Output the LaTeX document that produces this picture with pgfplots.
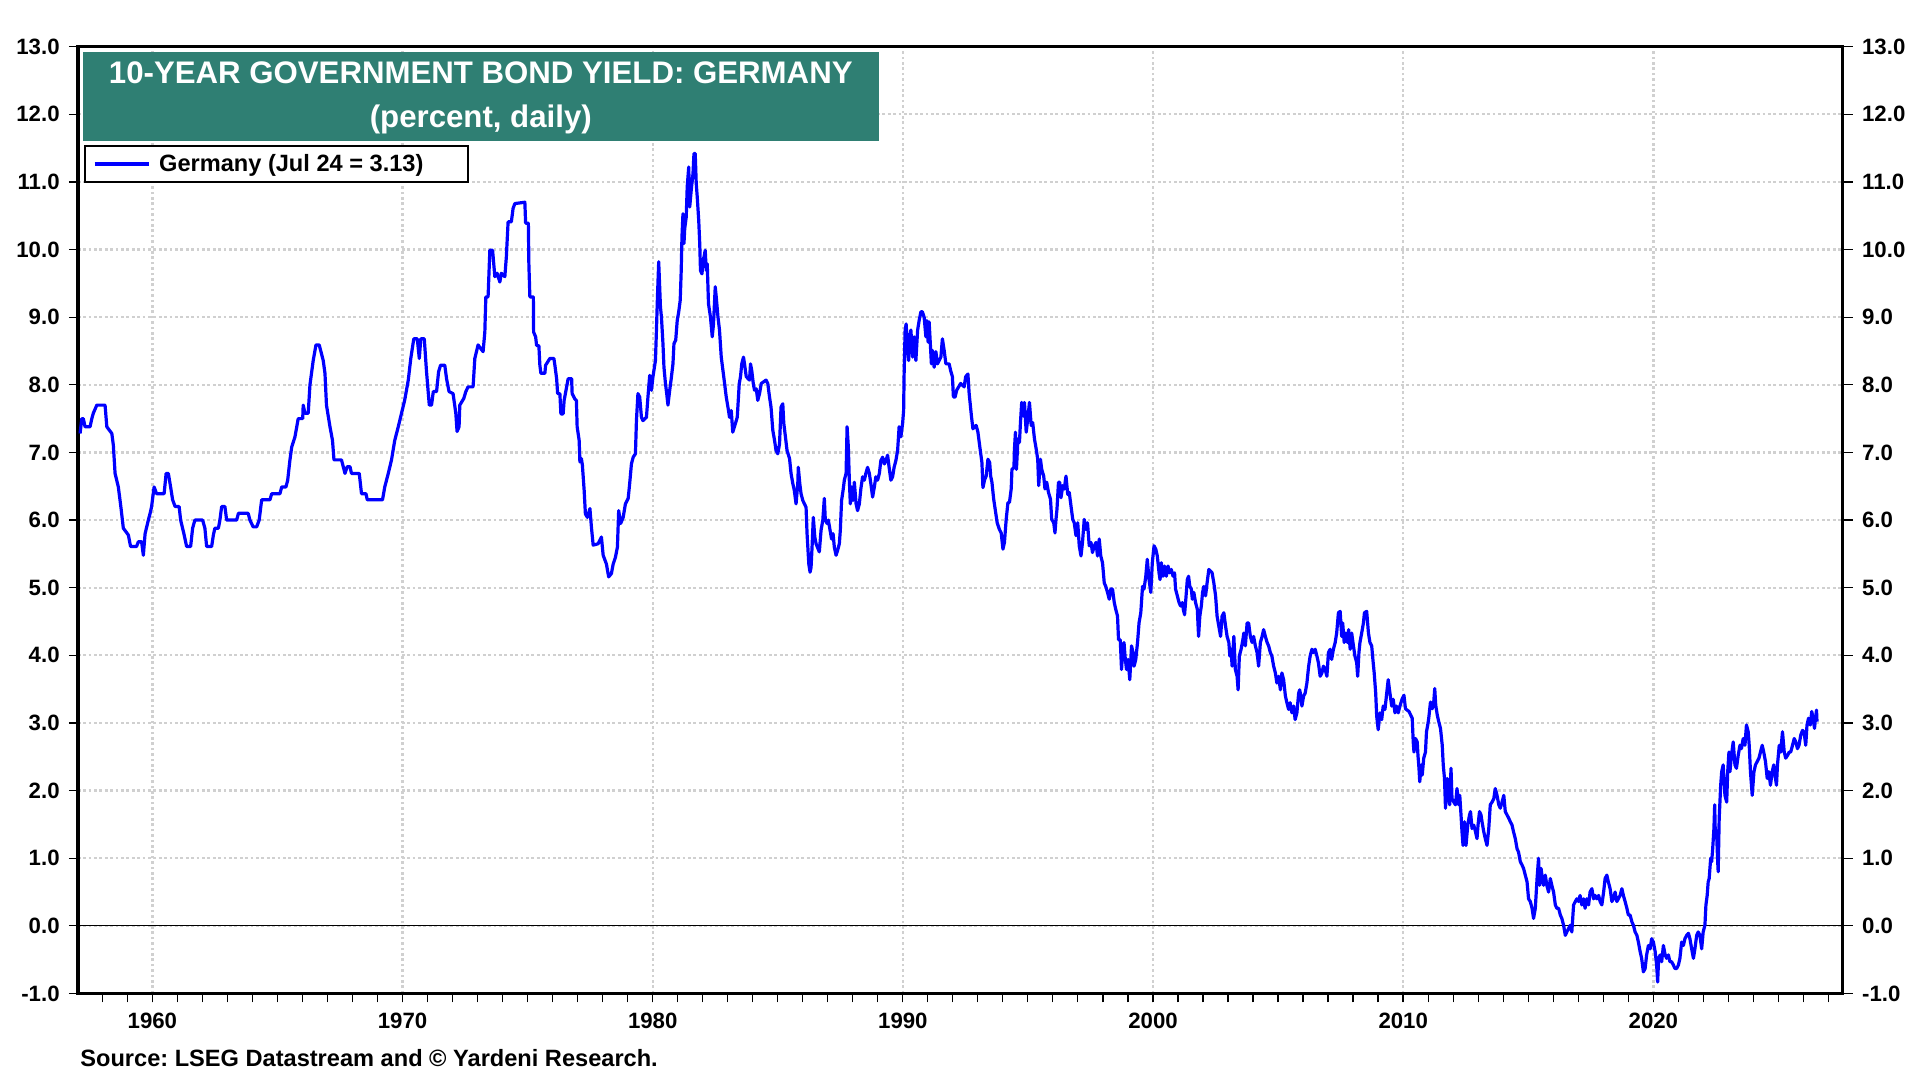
\documentclass[border=0pt]{standalone}
\usepackage{fontspec}
\setmainfont{Liberation Sans}
\usepackage{pgfplots}
\usepackage{pgfplotstable}
\pgfplotsset{compat=1.18}
\definecolor{titleteal}{RGB}{47,127,115}
\definecolor{gridgray}{RGB}{208,208,208}
\definecolor{lineblue}{RGB}{0,0,255}
\frenchspacing
\pgfplotstableread{
year yield
1957.11 7.28
1957.18 7.50
1957.24 7.50
1957.31 7.38
1957.51 7.38
1957.58 7.50
1957.64 7.58
1957.78 7.70
1958.11 7.70
1958.18 7.38
1958.38 7.28
1958.44 7.11
1958.51 6.69
1958.64 6.49
1958.74 6.20
1958.84 5.88
1959.04 5.78
1959.13 5.61
1959.37 5.61
1959.44 5.68
1959.57 5.68
1959.64 5.48
1959.71 5.80
1959.84 6.00
1959.91 6.10
1959.97 6.20
1960.07 6.49
1960.17 6.39
1960.47 6.39
1960.55 6.69
1960.64 6.69
1960.73 6.49
1960.81 6.30
1960.91 6.20
1961.07 6.20
1961.13 6.00
1961.26 5.80
1961.37 5.61
1961.53 5.61
1961.61 5.88
1961.70 6.00
1962.01 6.00
1962.10 5.88
1962.17 5.61
1962.37 5.61
1962.44 5.78
1962.50 5.88
1962.64 5.88
1962.70 6.00
1962.77 6.20
1962.90 6.20
1962.97 6.00
1963.37 6.00
1963.44 6.10
1963.83 6.10
1963.90 6.00
1964.03 5.90
1964.17 5.90
1964.27 6.00
1964.37 6.30
1964.70 6.30
1964.77 6.39
1965.10 6.39
1965.17 6.49
1965.34 6.49
1965.41 6.59
1965.50 6.89
1965.57 7.08
1965.70 7.23
1965.83 7.50
1966.01 7.50
1966.03 7.70
1966.10 7.58
1966.23 7.58
1966.30 8.00
1966.43 8.36
1966.54 8.59
1966.67 8.59
1966.74 8.49
1966.83 8.36
1966.90 8.17
1966.96 7.70
1967.10 7.38
1967.20 7.18
1967.26 6.89
1967.56 6.89
1967.70 6.69
1967.79 6.79
1967.90 6.79
1967.96 6.69
1968.27 6.69
1968.36 6.39
1968.54 6.39
1968.59 6.30
1969.20 6.30
1969.29 6.49
1969.43 6.69
1969.56 6.89
1969.69 7.18
1969.83 7.38
1969.96 7.58
1970.09 7.78
1970.23 8.07
1970.33 8.39
1970.45 8.68
1970.59 8.68
1970.67 8.39
1970.73 8.68
1970.87 8.68
1970.96 8.19
1971.07 7.70
1971.16 7.70
1971.23 7.90
1971.36 7.90
1971.44 8.19
1971.52 8.29
1971.69 8.29
1971.76 8.09
1971.86 7.90
1972.02 7.87
1972.13 7.58
1972.18 7.31
1972.26 7.38
1972.29 7.70
1972.45 7.80
1972.53 7.90
1972.62 7.97
1972.82 7.97
1972.89 8.39
1973.02 8.59
1973.22 8.49
1973.29 8.78
1973.33 9.30
1973.42 9.30
1973.49 9.99
1973.60 9.99
1973.69 9.60
1973.78 9.65
1973.89 9.52
1973.95 9.65
1974.09 9.60
1974.15 9.89
1974.22 10.41
1974.35 10.41
1974.42 10.61
1974.49 10.68
1974.89 10.70
1974.92 10.39
1975.03 10.39
1975.05 9.79
1975.09 9.30
1975.23 9.30
1975.24 8.78
1975.32 8.71
1975.36 8.58
1975.45 8.58
1975.49 8.29
1975.53 8.17
1975.69 8.17
1975.72 8.29
1975.89 8.39
1976.05 8.39
1976.09 8.29
1976.16 8.09
1976.20 7.87
1976.29 7.87
1976.33 7.57
1976.42 7.57
1976.46 7.77
1976.56 7.97
1976.62 8.09
1976.76 8.09
1976.78 7.87
1976.89 7.79
1976.95 7.77
1976.98 7.38
1977.06 7.18
1977.09 6.86
1977.15 6.91
1977.19 6.81
1977.26 6.44
1977.31 6.09
1977.39 6.04
1977.49 6.17
1977.55 5.90
1977.62 5.63
1977.82 5.65
1977.95 5.75
1978.02 5.48
1978.15 5.35
1978.24 5.16
1978.35 5.21
1978.42 5.35
1978.51 5.45
1978.59 5.60
1978.64 6.14
1978.72 5.95
1978.82 6.04
1978.91 6.24
1979.02 6.32
1979.08 6.54
1979.15 6.83
1979.22 6.93
1979.31 6.98
1979.35 7.47
1979.41 7.87
1979.48 7.82
1979.55 7.52
1979.61 7.47
1979.75 7.52
1979.81 7.82
1979.88 8.14
1979.95 7.92
1980.01 8.12
1980.11 8.36
1980.15 8.81
1980.19 9.30
1980.24 9.82
1980.31 9.15
1980.35 9.00
1980.41 8.61
1980.45 8.26
1980.51 8.02
1980.56 7.87
1980.61 7.70
1980.68 7.92
1980.74 8.09
1980.81 8.31
1980.85 8.61
1980.92 8.66
1980.98 8.95
1981.04 9.08
1981.10 9.25
1981.14 9.69
1981.17 10.19
1981.21 10.53
1981.25 10.09
1981.28 10.31
1981.34 10.48
1981.38 10.93
1981.44 11.22
1981.48 10.63
1981.54 10.88
1981.61 11.12
1981.65 11.42
1981.70 11.42
1981.74 10.98
1981.78 10.78
1981.84 10.43
1981.88 10.09
1981.91 9.69
1981.97 9.64
1982.01 9.84
1982.05 9.89
1982.10 9.99
1982.14 9.69
1982.18 9.79
1982.23 9.20
1982.31 9.00
1982.38 8.71
1982.43 8.90
1982.50 9.45
1982.54 9.30
1982.61 9.00
1982.67 8.81
1982.74 8.41
1982.85 8.09
1982.94 7.82
1983.03 7.62
1983.07 7.52
1983.14 7.62
1983.20 7.30
1983.30 7.42
1983.38 7.52
1983.46 8.02
1983.51 8.12
1983.56 8.31
1983.63 8.41
1983.67 8.31
1983.74 8.12
1983.87 8.07
1983.91 8.31
1983.96 8.21
1984.02 8.02
1984.07 7.92
1984.14 7.94
1984.20 7.77
1984.27 7.87
1984.34 8.02
1984.53 8.07
1984.60 8.02
1984.67 7.82
1984.73 7.67
1984.80 7.33
1984.87 7.18
1984.93 7.03
1985.00 6.98
1985.07 7.13
1985.13 7.67
1985.20 7.72
1985.24 7.43
1985.29 7.28
1985.37 7.03
1985.47 6.91
1985.53 6.69
1985.60 6.54
1985.66 6.44
1985.73 6.24
1985.80 6.54
1985.82 6.78
1985.88 6.54
1985.93 6.39
1986.00 6.29
1986.13 6.19
1986.17 5.80
1986.24 5.35
1986.29 5.23
1986.33 5.30
1986.37 5.60
1986.42 6.04
1986.48 5.75
1986.53 5.65
1986.66 5.53
1986.73 5.85
1986.80 6.00
1986.86 6.32
1986.90 6.00
1986.97 5.95
1987.02 6.00
1987.09 5.85
1987.15 5.72
1987.21 5.80
1987.26 5.60
1987.33 5.48
1987.39 5.55
1987.46 5.65
1987.50 5.85
1987.55 6.29
1987.61 6.44
1987.66 6.59
1987.73 6.69
1987.77 7.38
1987.82 7.08
1987.86 6.59
1987.90 6.24
1987.95 6.49
1988.01 6.29
1988.06 6.56
1988.13 6.24
1988.19 6.14
1988.26 6.24
1988.32 6.46
1988.39 6.64
1988.46 6.59
1988.52 6.69
1988.59 6.78
1988.66 6.69
1988.72 6.54
1988.79 6.34
1988.86 6.49
1988.92 6.64
1988.99 6.59
1989.06 6.69
1989.12 6.88
1989.19 6.93
1989.26 6.83
1989.32 6.88
1989.39 6.96
1989.45 6.78
1989.52 6.59
1989.59 6.64
1989.65 6.78
1989.72 6.88
1989.79 7.03
1989.85 7.38
1989.92 7.23
1989.99 7.43
1990.03 7.62
1990.05 8.16
1990.09 8.81
1990.13 8.90
1990.19 8.51
1990.23 8.36
1990.27 8.71
1990.32 8.81
1990.39 8.41
1990.45 8.71
1990.52 8.36
1990.59 8.81
1990.65 8.95
1990.72 9.08
1990.78 9.08
1990.85 9.00
1990.92 8.71
1990.96 8.95
1991.01 8.63
1991.05 8.93
1991.09 8.66
1991.14 8.31
1991.18 8.51
1991.25 8.26
1991.32 8.49
1991.38 8.31
1991.52 8.41
1991.58 8.68
1991.65 8.51
1991.72 8.31
1991.85 8.31
1991.91 8.21
1991.98 8.12
1992.02 7.82
1992.09 7.82
1992.15 7.92
1992.31 8.02
1992.45 7.97
1992.51 8.12
1992.60 8.16
1992.65 7.87
1992.74 7.54
1992.80 7.35
1992.93 7.40
1993.00 7.30
1993.07 7.10
1993.16 6.85
1993.20 6.48
1993.27 6.60
1993.33 6.65
1993.40 6.90
1993.47 6.85
1993.51 6.65
1993.56 6.56
1993.63 6.31
1993.69 6.16
1993.77 5.96
1993.86 5.86
1993.93 5.81
1994.00 5.57
1994.06 5.67
1994.13 6.01
1994.20 6.26
1994.26 6.26
1994.33 6.46
1994.36 6.75
1994.44 6.78
1994.46 7.05
1994.50 7.30
1994.54 6.75
1994.60 7.20
1994.66 7.15
1994.70 7.44
1994.75 7.74
1994.81 7.54
1994.86 7.74
1994.93 7.30
1994.99 7.49
1995.06 7.74
1995.13 7.40
1995.19 7.44
1995.26 7.20
1995.33 7.05
1995.39 6.90
1995.43 6.51
1995.50 6.90
1995.55 6.75
1995.63 6.65
1995.68 6.46
1995.75 6.56
1995.82 6.41
1995.90 6.31
1995.95 6.01
1996.03 5.96
1996.08 5.81
1996.12 6.01
1996.16 6.16
1996.22 6.56
1996.27 6.56
1996.32 6.33
1996.39 6.51
1996.45 6.46
1996.52 6.65
1996.59 6.38
1996.65 6.41
1996.72 6.21
1996.79 6.01
1996.85 5.96
1996.92 5.77
1996.99 5.96
1997.05 5.62
1997.12 5.47
1997.18 5.67
1997.25 6.01
1997.32 5.86
1997.38 5.96
1997.45 5.62
1997.52 5.67
1997.58 5.52
1997.65 5.62
1997.72 5.67
1997.78 5.47
1997.85 5.72
1997.91 5.47
1997.98 5.37
1998.05 5.07
1998.11 5.02
1998.18 4.93
1998.25 4.83
1998.31 4.98
1998.38 4.98
1998.45 4.78
1998.51 4.68
1998.58 4.58
1998.62 4.23
1998.69 4.23
1998.74 3.79
1998.79 4.09
1998.84 4.19
1998.88 3.99
1998.94 3.79
1999.00 3.94
1999.07 3.64
1999.14 4.14
1999.20 4.04
1999.24 3.84
1999.31 3.94
1999.38 4.19
1999.44 4.48
1999.51 4.63
1999.58 5.02
1999.64 4.98
1999.71 5.17
1999.77 5.42
1999.84 5.12
1999.91 4.93
1999.97 5.37
2000.04 5.62
2000.11 5.57
2000.17 5.47
2000.24 5.22
2000.28 5.12
2000.33 5.37
2000.40 5.17
2000.46 5.32
2000.53 5.17
2000.60 5.32
2000.66 5.22
2000.73 5.27
2000.80 5.17
2000.86 5.22
2000.90 4.98
2000.97 4.88
2001.04 4.78
2001.10 4.73
2001.17 4.78
2001.21 4.68
2001.26 4.60
2001.31 4.83
2001.37 5.12
2001.42 5.17
2001.47 5.02
2001.53 4.98
2001.57 4.83
2001.63 4.93
2001.70 4.78
2001.77 4.68
2001.82 4.28
2001.87 4.58
2001.93 4.73
2001.98 4.93
2002.03 5.02
2002.10 4.88
2002.16 5.07
2002.23 5.27
2002.36 5.22
2002.43 5.07
2002.50 4.88
2002.56 4.58
2002.63 4.43
2002.70 4.28
2002.76 4.58
2002.83 4.63
2002.90 4.43
2002.96 4.28
2003.03 4.19
2003.07 3.99
2003.12 4.09
2003.16 3.84
2003.23 4.28
2003.29 3.79
2003.36 3.69
2003.40 3.49
2003.45 3.99
2003.52 4.09
2003.59 4.23
2003.63 4.33
2003.69 4.14
2003.76 4.48
2003.82 4.48
2003.89 4.28
2003.96 4.19
2004.02 4.28
2004.09 4.14
2004.16 4.04
2004.22 3.84
2004.29 4.19
2004.36 4.28
2004.42 4.38
2004.49 4.28
2004.56 4.19
2004.62 4.14
2004.69 4.04
2004.75 3.99
2004.82 3.84
2004.89 3.74
2004.95 3.59
2005.02 3.69
2005.09 3.49
2005.15 3.74
2005.22 3.64
2005.29 3.40
2005.35 3.30
2005.42 3.20
2005.48 3.30
2005.55 3.15
2005.62 3.25
2005.68 3.05
2005.75 3.15
2005.82 3.44
2005.86 3.49
2005.91 3.40
2005.95 3.25
2006.02 3.40
2006.08 3.44
2006.15 3.59
2006.22 3.84
2006.28 3.99
2006.35 4.09
2006.41 4.04
2006.48 4.09
2006.55 3.99
2006.61 3.89
2006.68 3.69
2006.75 3.74
2006.81 3.84
2006.88 3.79
2006.95 3.69
2007.01 4.04
2007.08 4.09
2007.14 3.94
2007.21 4.09
2007.28 4.19
2007.34 4.33
2007.41 4.63
2007.48 4.65
2007.54 4.28
2007.58 4.48
2007.64 4.19
2007.70 4.33
2007.77 4.19
2007.82 4.38
2007.88 4.09
2007.94 4.33
2008.01 4.14
2008.07 3.99
2008.14 3.89
2008.18 3.69
2008.23 4.04
2008.27 4.19
2008.34 4.33
2008.41 4.48
2008.45 4.63
2008.54 4.65
2008.61 4.33
2008.67 4.19
2008.74 4.14
2008.80 3.89
2008.84 3.74
2008.90 3.44
2008.94 3.10
2009.00 2.90
2009.07 3.15
2009.14 3.05
2009.20 3.25
2009.27 3.20
2009.34 3.44
2009.40 3.64
2009.47 3.44
2009.54 3.25
2009.60 3.35
2009.67 3.15
2009.73 3.25
2009.80 3.15
2009.87 3.25
2009.96 3.36
2010.03 3.41
2010.09 3.21
2010.23 3.17
2010.36 3.07
2010.40 2.72
2010.43 2.57
2010.49 2.77
2010.56 2.72
2010.59 2.52
2010.63 2.33
2010.66 2.13
2010.72 2.38
2010.76 2.23
2010.82 2.48
2010.89 2.57
2010.93 2.87
2010.98 2.97
2011.02 3.07
2011.09 3.31
2011.16 3.21
2011.22 3.31
2011.26 3.51
2011.30 3.26
2011.36 3.12
2011.42 3.02
2011.49 2.92
2011.56 2.67
2011.60 2.38
2011.65 2.18
2011.69 1.74
2011.76 2.18
2011.82 1.88
2011.86 1.79
2011.91 2.33
2011.95 1.88
2012.02 1.83
2012.09 1.79
2012.15 2.03
2012.22 1.79
2012.26 1.93
2012.31 1.64
2012.35 1.39
2012.39 1.19
2012.45 1.54
2012.51 1.19
2012.58 1.49
2012.65 1.64
2012.69 1.69
2012.75 1.44
2012.82 1.49
2012.89 1.39
2012.95 1.29
2012.99 1.49
2013.05 1.69
2013.11 1.64
2013.15 1.54
2013.22 1.39
2013.28 1.29
2013.35 1.19
2013.42 1.44
2013.48 1.79
2013.55 1.83
2013.62 1.88
2013.68 2.03
2013.75 1.93
2013.82 1.79
2013.88 1.74
2013.95 1.83
2014.02 1.93
2014.08 1.69
2014.15 1.64
2014.22 1.59
2014.28 1.54
2014.35 1.49
2014.41 1.39
2014.48 1.29
2014.55 1.14
2014.61 1.09
2014.68 0.95
2014.75 0.90
2014.81 0.85
2014.88 0.75
2014.95 0.65
2015.01 0.40
2015.08 0.36
2015.15 0.26
2015.21 0.11
2015.28 0.26
2015.35 0.70
2015.41 1.00
2015.45 0.60
2015.51 0.85
2015.56 0.70
2015.61 0.60
2015.68 0.75
2015.74 0.60
2015.81 0.50
2015.88 0.70
2015.94 0.60
2016.01 0.50
2016.08 0.31
2016.14 0.26
2016.21 0.26
2016.28 0.16
2016.34 0.11
2016.41 0.01
2016.48 -0.14
2016.54 -0.09
2016.61 -0.04
2016.68 0.01
2016.74 -0.09
2016.81 0.31
2016.88 0.36
2016.94 0.40
2017.01 0.36
2017.07 0.45
2017.14 0.31
2017.21 0.40
2017.27 0.26
2017.34 0.40
2017.41 0.31
2017.47 0.50
2017.54 0.55
2017.61 0.40
2017.67 0.45
2017.74 0.40
2017.81 0.45
2017.87 0.36
2017.94 0.31
2018.01 0.50
2018.07 0.70
2018.14 0.75
2018.20 0.65
2018.27 0.55
2018.34 0.36
2018.40 0.40
2018.47 0.50
2018.54 0.36
2018.60 0.40
2018.67 0.45
2018.74 0.55
2018.80 0.45
2018.87 0.36
2018.94 0.26
2019.00 0.16
2019.07 0.16
2019.14 0.06
2019.20 0.01
2019.27 -0.09
2019.34 -0.14
2019.40 -0.24
2019.47 -0.38
2019.53 -0.48
2019.60 -0.68
2019.67 -0.63
2019.73 -0.43
2019.80 -0.29
2019.87 -0.34
2019.93 -0.19
2020.00 -0.24
2020.07 -0.38
2020.13 -0.58
2020.17 -0.83
2020.21 -0.48
2020.27 -0.43
2020.33 -0.53
2020.40 -0.29
2020.47 -0.43
2020.53 -0.48
2020.60 -0.43
2020.66 -0.53
2020.73 -0.53
2020.80 -0.58
2020.86 -0.63
2020.93 -0.63
2021.00 -0.58
2021.06 -0.48
2021.13 -0.24
2021.20 -0.29
2021.26 -0.19
2021.33 -0.14
2021.40 -0.11
2021.46 -0.19
2021.53 -0.34
2021.60 -0.48
2021.66 -0.34
2021.73 -0.14
2021.79 -0.09
2021.86 -0.14
2021.93 -0.34
2021.99 -0.09
2022.06 0.01
2022.10 0.31
2022.15 0.45
2022.19 0.65
2022.23 0.70
2022.29 1.00
2022.33 0.95
2022.37 1.14
2022.42 1.44
2022.45 1.79
2022.47 1.44
2022.53 1.34
2022.57 0.95
2022.59 0.80
2022.63 1.59
2022.69 2.08
2022.73 2.28
2022.79 2.38
2022.86 1.93
2022.93 1.83
2022.97 2.28
2023.02 2.57
2023.06 2.28
2023.12 2.52
2023.19 2.72
2023.26 2.38
2023.32 2.33
2023.39 2.52
2023.46 2.67
2023.52 2.62
2023.59 2.77
2023.66 2.67
2023.72 2.97
2023.79 2.87
2023.83 2.67
2023.88 2.28
2023.95 1.93
2024.02 2.28
2024.08 2.38
2024.15 2.43
2024.22 2.48
2024.28 2.57
2024.35 2.67
2024.41 2.57
2024.48 2.43
2024.55 2.18
2024.61 2.28
2024.68 2.08
2024.75 2.28
2024.81 2.38
2024.88 2.18
2024.92 2.08
2024.96 2.38
2025.03 2.67
2025.09 2.57
2025.16 2.87
2025.23 2.57
2025.29 2.48
2025.36 2.52
2025.43 2.57
2025.49 2.57
2025.56 2.67
2025.63 2.77
2025.69 2.72
2025.76 2.62
2025.82 2.67
2025.89 2.82
2025.96 2.89
2026.02 2.87
2026.09 2.67
2026.14 2.97
2026.20 3.07
2026.27 2.97
2026.33 3.17
2026.38 3.07
2026.44 2.92
2026.48 3.07
2026.52 3.19
2026.54 3.02
}\germany
\begin{document}
\begin{tikzpicture}
\useasboundingbox (0,0) rectangle (960pt,540pt);
\begin{axis}[
  at={(38.9pt,43.25pt)}, anchor=south west,
  scale only axis, width=882.35pt, height=473.4pt,
  xmin=1957.02, xmax=2027.56, ymin=-1, ymax=13,
  axis line style={line width=1.7pt},
  xtick={1960,1970,1980,1990,2000,2010,2020},
  xticklabels={1960,1970,1980,1990,2000,2010,2020},
  minor xtick={1958,1959,...,2027},
  ytick={-1,0,...,13},
  yticklabels={-1.0,0.0,1.0,2.0,3.0,4.0,5.0,6.0,7.0,8.0,9.0,10.0,11.0,12.0,13.0},
  xtick pos=left, ytick pos=left,
  tick align=outside,
  major tick length=4.5pt, minor tick length=4.5pt,
  tick style={black, line width=0.6pt},
  grid=major,
  major grid style={gridgray, line width=1.15pt, dash pattern=on 1.35pt off 1.35pt},
  tick label style={font=\fontsize{11.1pt}{12pt}\selectfont\bfseries, inner sep=0pt},
  yticklabel style={anchor=east, xshift=-4.4pt},
  xticklabel style={anchor=center, yshift=-9.3pt},
  extra y ticks={0}, extra y tick labels={},
  extra y tick style={grid=major, major grid style={black, solid, line width=0.6pt}, major tick length=0pt},
  legend style={at={(axis description cs:0.0035,0.8962)}, anchor=north west,
    draw=black, line width=1pt, fill=white, inner xsep=4pt, inner ysep=2.5pt,
    font=\fontsize{11.8pt}{13pt}\selectfont\bfseries,
    nodes={inner xsep=4.5pt, inner ysep=1.5pt}},
  legend cell align=left,
  legend image code/.code={\draw[#1] (0pt,0pt) -- (27pt,0pt);},
]
\addplot[lineblue, line width=1.6pt, line join=round] table[x=year,y=yield]{\germany};
\addlegendentry{Germany (Jul 24 = 3.13)\hspace*{14pt}}
\end{axis}
\begin{axis}[
  at={(38.9pt,43.25pt)}, anchor=south west,
  scale only axis, width=882.35pt, height=473.4pt,
  xmin=1957.02, xmax=2027.56, ymin=-1, ymax=13,
  hide x axis, axis y line*=right,
  axis line style={line width=1.7pt, -},
  ytick={-1,0,...,13},
  yticklabels={-1.0,0.0,1.0,2.0,3.0,4.0,5.0,6.0,7.0,8.0,9.0,10.0,11.0,12.0,13.0},
  tick align=outside, major tick length=5pt,
  tick style={black, line width=0.6pt},
  tick label style={font=\fontsize{11.1pt}{12pt}\selectfont\bfseries, inner sep=0pt},
  yticklabel style={anchor=west, xshift=4.6pt},
]
\end{axis}
\fill[titleteal] (41.35pt,469.5pt) rectangle (439.4pt,514.15pt);
\node[anchor=base, text=white, inner sep=0pt, font=\fontsize{15.6pt}{18pt}\selectfont\bfseries] at (240.4pt,498.4pt) {10-YEAR GOVERNMENT BOND YIELD: GERMANY};
\node[anchor=base, text=white, inner sep=0pt, font=\fontsize{15.6pt}{18pt}\selectfont\bfseries] at (240.4pt,476pt) {(percent, daily)};
\node[anchor=base west, inner sep=0pt, font=\fontsize{11.8pt}{13pt}\selectfont\bfseries] at (40pt,6.5pt) {Source: LSEG Datastream and © Yardeni Research.};
\end{tikzpicture}
\end{document}
